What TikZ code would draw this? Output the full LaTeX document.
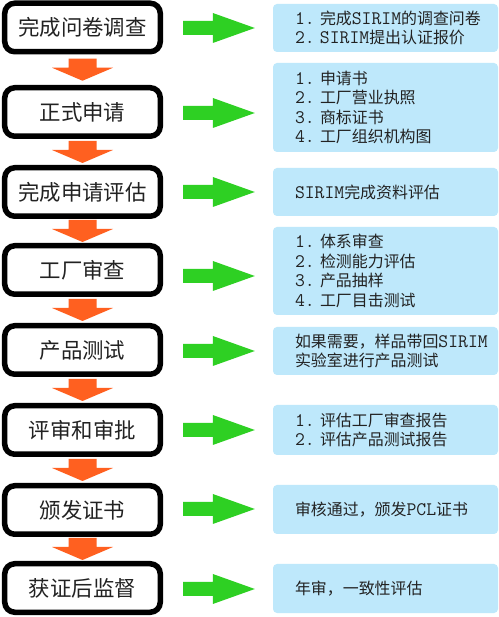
\documentclass[tikz,border=0pt]{standalone}
\usepackage{fontspec}
\usetikzlibrary{calc}
\newfontfamily\cjk{Noto Sans CJK SC}
\newfontfamily\mono{Latin Modern Mono}[Scale=1.2]
\definecolor{arrgreen}{RGB}{46,208,35}
\definecolor{arrorange}{RGB}{255,96,32}
\definecolor{infoblue}{RGB}{190,232,251}
\definecolor{txt}{RGB}{34,34,34}
\newcommand\M[1]{{\mono #1}}
\newcommand\li[2]{\makebox[25bp][l]{\mono #1.}#2}
\newcommand\garrow[3]{%
  \coordinate (gs) at ($(#1.east)+(20,#3)$);
  \coordinate (gt) at ($(gs -| #2.west)+(-18,0)$);
  \fill[arrgreen] ([yshift=7bp]gs) -- ([xshift=-42bp,yshift=7bp]gt) -- ([xshift=-42bp,yshift=15bp]gt) -- (gt)
    -- ([xshift=-42bp,yshift=-15bp]gt) -- ([xshift=-42bp,yshift=-7bp]gt) -- ([yshift=-7bp]gs) -- cycle;}
\newcommand\oarrow[2]{%
  \coordinate (oc) at ($(#1.south)!0.5!(#2.north)$);
  \fill[arrorange] ([shift={(-14,11)}]oc) -- ++(28,0) -- ++(0,-9) -- ++(16.5,0) -- ++(-30.5,-13)
    -- ++(-30.5,13) -- ++(16.5,0) -- cycle;}
\begin{document}
\begin{tikzpicture}[x=1bp,y=1bp,
  stepbox/.style={draw=black, line width=5.5bp, rounded corners=10bp, fill=white,
    minimum width=155.5bp, minimum height=48.5bp, inner sep=0pt, text=txt,
    font=\cjk\fontsize{21.5}{24}\selectfont},
  infobox/.style={fill=infoblue, rounded corners=4bp, minimum width=225bp, text width=181bp,
    inner xsep=22bp, inner ysep=0pt, align=left, text=txt,
    font=\cjk\fontsize{16}{19.5}\selectfont},
]
\useasboundingbox (0,0) rectangle (499,617);
\fill[white] (0,0) rectangle (499,617);

\node[stepbox] (s1) at (82.5,589.5) {完成问卷调查};
\node[stepbox] (s2) at (82.5,505) {正式申请};
\node[stepbox] (s3) at (82.5,425) {完成申请评估};
\node[stepbox] (s4) at (82.5,347) {工厂审查};
\node[stepbox] (s5) at (82.5,267) {产品测试};
\node[stepbox] (s6) at (82.5,187) {评审和审批};
\node[stepbox] (s7) at (82.5,107) {颁发证书};
\node[stepbox] (s8) at (82.5,29) {获证后监督};

\node[infobox, minimum height=48bp] (i1) at (385.5,589)
  {\li1{完成\M{SIRIM}的调查问卷}\\\li2{\M{SIRIM}提出认证报价}};
\node[infobox, minimum height=89bp] (i2) at (385.5,509.5)
  {\li1{申请书}\\\li2{工厂营业执照}\\\li3{商标证书}\\\li4{工厂组织机构图}};
\node[infobox, minimum height=48bp] (i3) at (385.5,425)
  {\M{SIRIM}完成资料评估};
\node[infobox, minimum height=88bp] (i4) at (385.5,346)
  {\li1{体系审查}\\\li2{检测能力评估}\\\li3{产品抽样}\\\li4{工厂目击测试}};
\node[infobox, minimum height=48bp] (i5) at (385.5,266)
  {如果需要，样品带回\M{SIRIM}\\实验室进行产品测试};
\node[infobox, minimum height=50bp] (i6) at (385.5,187)
  {\li1{评估工厂审查报告}\\\li2{评估产品测试报告}};
\node[infobox, minimum height=49bp] (i7) at (385.5,107.5)
  {审核通过，颁发\M{PCL}证书};
\node[infobox, minimum height=49bp] (i8) at (385.5,28.5)
  {年审，一致性评估};

\oarrow{s1}{s2}
\oarrow{s2}{s3}
\oarrow{s3}{s4}
\oarrow{s4}{s5}
\oarrow{s5}{s6}
\oarrow{s6}{s7}
\oarrow{s7}{s8}

\garrow{s1}{i1}{-0.5}
\garrow{s2}{i2}{-1}
\garrow{s3}{i3}{0}
\garrow{s4}{i4}{-6}
\garrow{s5}{i5}{-1}
\garrow{s6}{i6}{0}
\garrow{s7}{i7}{1}
\garrow{s8}{i8}{-1}
\end{tikzpicture}
\end{document}
